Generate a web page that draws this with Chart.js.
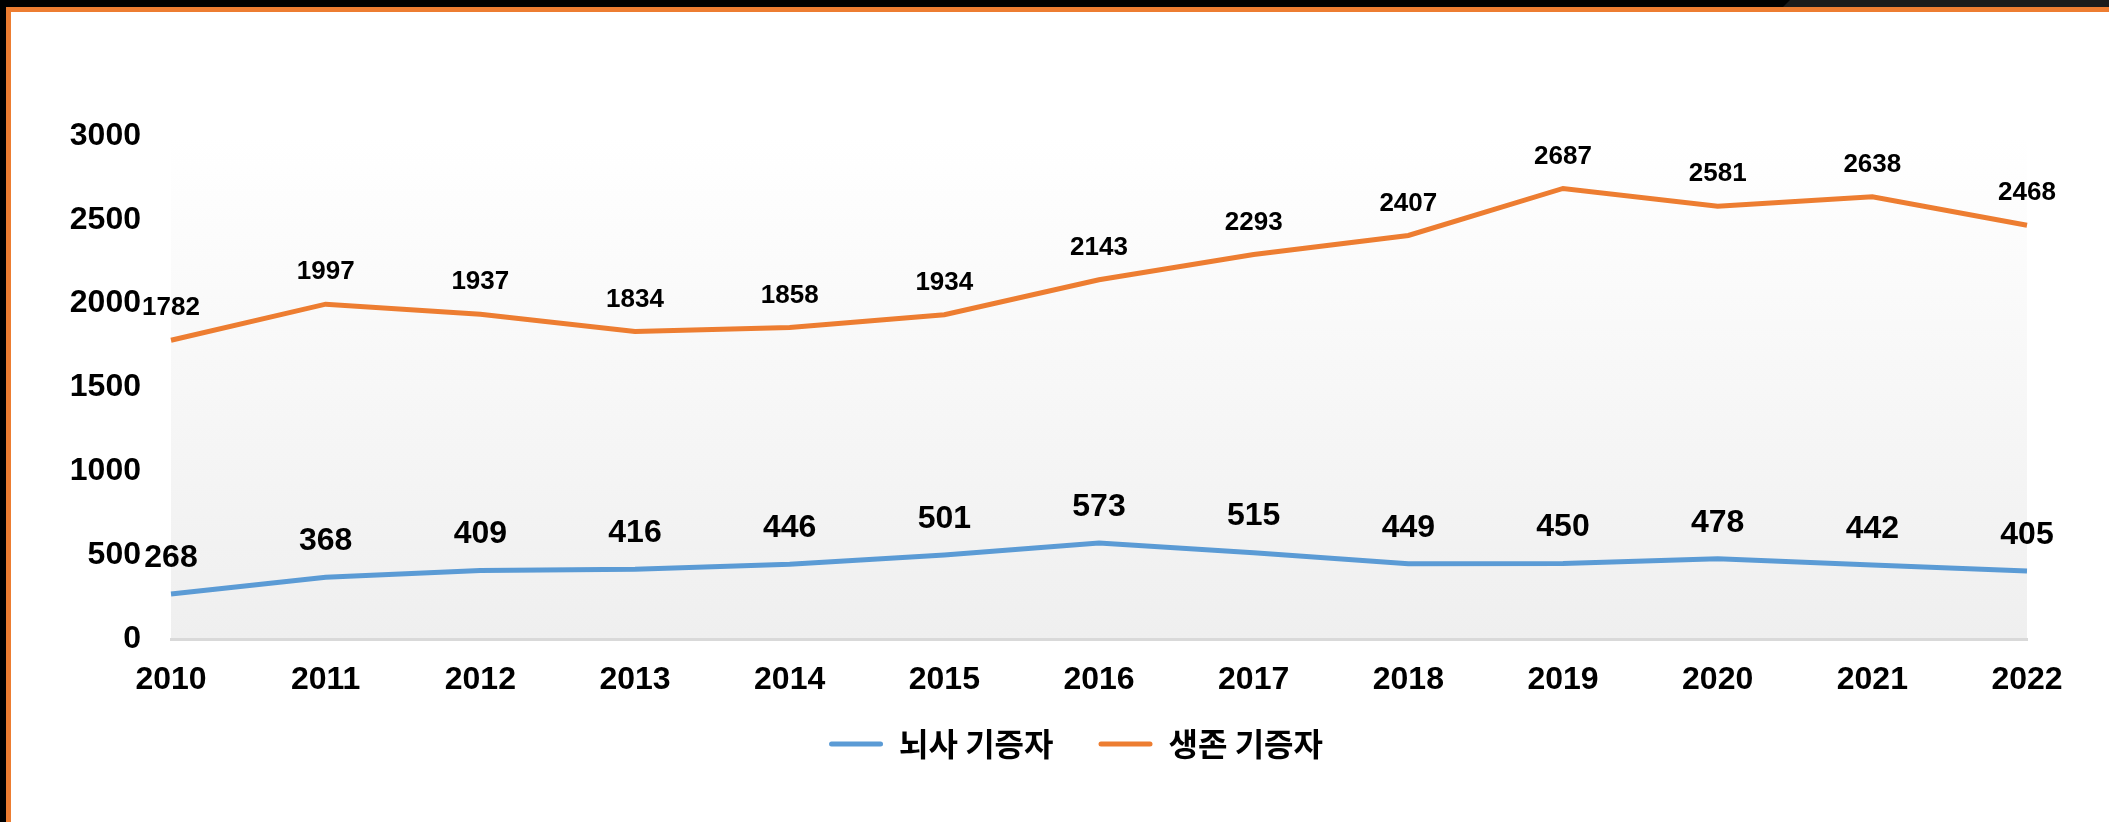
<!DOCTYPE html>
<html lang="ko">
<head>
    <meta charset="UTF-8" />
    <title>뇌사 / 생존 기증자</title>
    <script src="https://cdn.jsdelivr.net/npm/chart.js"></script>
    <style>
        html, body {
            margin: 0;
            padding: 0;
            background: #fff;
            width: 2109px;
            height: 822px;
            overflow: hidden;
        }
        .topbar {
            position: absolute;
            left: 0; top: 0;
            width: 2109px; height: 7px;
            background: #000;
        }
        .topbar-right {
            position: absolute;
            left: 1783px; top: 0;
            width: 326px; height: 7px;
            background: #1b1b1b;
            clip-path: polygon(7px 0, 100% 0, 100% 100%, 0 100%);
        }
        .leftbar {
            position: absolute;
            left: 0; top: 0;
            width: 6px; height: 822px;
            background: #000;
        }
        .frame {
            position: absolute;
            left: 6px; top: 7px;
            width: 2103px; height: 815px;
            border-top: 5px solid #ED7D31;
            border-left: 5px solid #ED7D31;
            box-sizing: border-box;
        }
        #wrap {
            position: absolute;
            left: 11px; top: 12px;
            width: 2098px; height: 810px;
        }
    </style>
</head>
<body>
    <div class="topbar"></div>
    <div class="topbar-right"></div>
    <div class="leftbar"></div>
    <div class="frame"></div>
    <div id="wrap"><canvas id="donorChart"></canvas></div>

    <script>
        const years = ["2010", "2011", "2012", "2013", "2014", "2015", "2016",
                       "2017", "2018", "2019", "2020", "2021", "2022"];
        const brainDead = [268, 368, 409, 416, 446, 501, 573, 515, 449, 450, 478, 442, 405];
        const living = [1782, 1997, 1937, 1834, 1858, 1934, 2143, 2293, 2407, 2687, 2581, 2638, 2468];
        const seriesNames = ["뇌사 기증자", "생존 기증자"];

        const latin = "'Liberation Sans', Arial, sans-serif";
        const korean = "'Noto Sans CJK KR', 'Liberation Sans', sans-serif";

        // plot area background: white fading to light grey
        const plotBg = {
            id: "plotBg",
            beforeDraw(chart) {
                const { ctx, chartArea: a } = chart;
                const g = ctx.createLinearGradient(0, a.top, 0, a.bottom);
                g.addColorStop(0, "#ffffff");
                g.addColorStop(1, "#efefef");
                ctx.save();
                ctx.fillStyle = g;
                ctx.fillRect(a.left, a.top, a.right - a.left, a.bottom - a.top);
                ctx.restore();
            }
        };

        // nudge the legend so it sits where the original has it
        const legendShift = {
            id: "legendShift",
            afterLayout(chart) {
                const lg = chart.legend;
                if (!lg) return;
                lg.left += 57; lg.right += 57;
                lg.top -= 18; lg.bottom -= 18;
            }
        };

        // value labels above each point
        const valueLabels = {
            id: "valueLabels",
            afterDatasetsDraw(chart) {
                const ctx = chart.ctx;
                ctx.save();
                ctx.fillStyle = "#000";
                ctx.textAlign = "center";
                ctx.textBaseline = "middle";
                chart.data.datasets.forEach((ds, i) => {
                    const meta = chart.getDatasetMeta(i);
                    ctx.font = `bold ${ds.labelSize}px ${latin}`;
                    meta.data.forEach((pt, j) => {
                        ctx.fillText(String(ds.data[j]), pt.x, pt.y - ds.labelLift);
                    });
                });
                ctx.restore();
            }
        };

        const ctx = document.getElementById("donorChart").getContext("2d");
        new Chart(ctx, {
            type: "line",
            data: {
                labels: years,
                datasets: [{
                    label: seriesNames[0],
                    data: brainDead,
                    borderColor: "#5B9BD5",
                    backgroundColor: "#5B9BD5",
                    borderWidth: 5,
                    pointRadius: 0,
                    tension: 0,
                    labelSize: 32,
                    labelLift: 36
                }, {
                    label: seriesNames[1],
                    data: living,
                    borderColor: "#ED7D31",
                    backgroundColor: "#ED7D31",
                    borderWidth: 5,
                    pointRadius: 0,
                    tension: 0,
                    labelSize: 26,
                    labelLift: 32
                }]
            },
            options: {
                responsive: true,
                maintainAspectRatio: false,
                animation: false,
                layout: {
                    padding: { top: 124, right: 82, bottom: 34, left: 0 }
                },
                plugins: {
                    tooltip: { enabled: false },
                    legend: {
                        position: "bottom",
                        labels: {
                            color: "#000",
                            font: { family: korean, size: 32, weight: "bold" },
                            boxWidth: 54,
                            boxHeight: 5,
                            padding: 45,
                            generateLabels(chart) {
                                const items = Chart.defaults.plugins.legend.labels.generateLabels(chart);
                                items.forEach(it => {
                                    it.lineWidth = 0;
                                    it.borderRadius = 2.5;
                                });
                                return items;
                            }
                        }
                    }
                },
                scales: {
                    x: {
                        offset: false,
                        grid: { display: false, drawTicks: false },
                        border: { display: true, color: "#d9d9d9", width: 3 },
                        ticks: {
                            color: "#000",
                            font: { family: latin, size: 32, weight: "bold" },
                            padding: 22,
                            maxRotation: 0,
                            autoSkip: false
                        },
                        afterFit(scale) { scale.height = 62; }
                    },
                    y: {
                        min: 0,
                        max: 3000,
                        grid: { display: false, drawTicks: false },
                        border: { display: false },
                        ticks: {
                            stepSize: 500,
                            color: "#000",
                            font: { family: latin, size: 32, weight: "bold" },
                            padding: 30,
                            callback: v => String(v)
                        },
                        afterFit(scale) { scale.width = 160; }
                    }
                }
            },
            plugins: [plotBg, legendShift, valueLabels]
        });
    </script>
</body>
</html>
